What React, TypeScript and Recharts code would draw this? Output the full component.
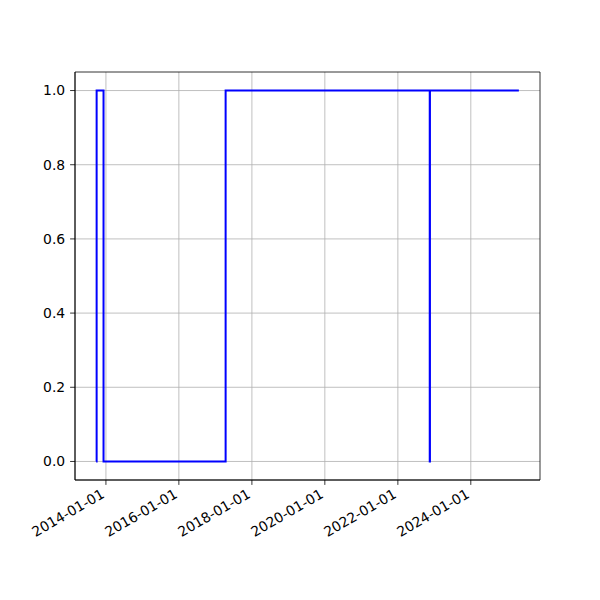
import React from 'react'
import {
  LineChart, Line, XAxis, YAxis, CartesianGrid, ReferenceArea,
} from 'recharts'

// change points of the state signal (step after each date)
const dates = ['2013-09-25', '2013-09-30', '2013-12-08', '2017-04-13', '2022-11-16', '2022-11-18', '2025-04-26']
const states = [0, 1, 0, 1, 0, 1, 1]

const xTickDates = ['2014-01-01', '2016-01-01', '2018-01-01', '2020-01-01', '2022-01-01', '2024-01-01']
const yTicks = [0, 0.2, 0.4, 0.6, 0.8, 1.0]

const toTs = (s: string) => {
  const [y, m, d] = s.split('-').map(Number)
  return Date.UTC(y, m - 1, d)
}

const data = dates.map((d, i) => ({ t: toTs(d), v: states[i] }))
const xTicks = xTickDates.map(toTs)

const tMin = data[0].t
const tMax = data[data.length - 1].t
const pad = (tMax - tMin) * 0.05
const xDomain: [number, number] = [tMin - pad, tMax + pad]
const yDomain: [number, number] = [-0.05, 1.05]

const FONT = 'DejaVu Sans, sans-serif'

function fmtDate(ts: number) {
  const d = new Date(ts)
  const y = d.getUTCFullYear()
  const m = String(d.getUTCMonth() + 1).padStart(2, '0')
  const day = String(d.getUTCDate()).padStart(2, '0')
  return `${y}-${m}-${day}`
}

// rotated date label, right-aligned like autofmt_xdate
function DateTick({ x, y, payload }: { x?: number; y?: number; payload?: { value: number } }) {
  if (x == null || y == null || !payload) return null
  const ax = x - 0.5
  const ay = y + 7
  return (
    <text
      x={ax}
      y={ay}
      textAnchor="end"
      fontSize={13.9}
      fontFamily={FONT}
      fill="#000"
      transform={`rotate(-30 ${ax} ${ay})`}
    >
      {fmtDate(payload.value)}
    </text>
  )
}

export default function App() {
  return (
    <div style={{ width: 600, height: 600, background: '#fff' }}>
      <style>{'body{margin:0}'}</style>
      <LineChart
        width={600}
        height={600}
        data={data}
        margin={{ top: 72, right: 60, left: 0, bottom: 0 }}
      >
        <CartesianGrid stroke="#b0b0b0" strokeWidth={0.8} horizontalValues={yTicks} verticalValues={xTicks} />
        <XAxis
          dataKey="t"
          type="number"
          scale="time"
          domain={xDomain}
          ticks={xTicks}
          interval={0}
          height={120}
          axisLine={{ stroke: '#000', strokeWidth: 0.8 }}
          tickLine={{ stroke: '#000', strokeWidth: 0.8 }}
          tickSize={4.9}
          tickMargin={4.9}
          tick={<DateTick />}
          allowDataOverflow
        />
        <YAxis
          type="number"
          domain={yDomain}
          ticks={yTicks}
          interval={0}
          width={75}
          axisLine={{ stroke: '#000', strokeWidth: 0.8 }}
          tickLine={{ stroke: '#000', strokeWidth: 0.8 }}
          tickSize={4.9}
          tickMargin={4.9}
          tickFormatter={(v: number) => v.toFixed(1)}
          tick={{ fontSize: 13.9, fontFamily: FONT, fill: '#000' }}
          allowDataOverflow
        />
        <ReferenceArea
          x1={xDomain[0]}
          x2={xDomain[1]}
          y1={yDomain[0]}
          y2={yDomain[1]}
          fill="none"
          stroke="#000"
          strokeWidth={0.8}
          ifOverflow="visible"
        />
        <Line
          type="stepAfter"
          dataKey="v"
          stroke="#0000ff"
          strokeWidth={2}
          dot={false}
          isAnimationActive={false}
        />
      </LineChart>
    </div>
  )
}
